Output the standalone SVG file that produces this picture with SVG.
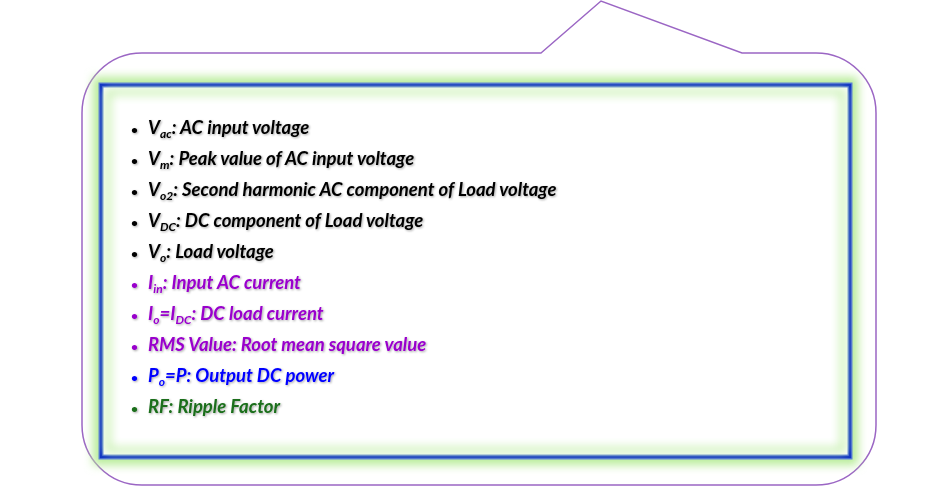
<svg xmlns="http://www.w3.org/2000/svg" width="950" height="495" viewBox="0 0 950 495">
<defs>
<filter id="glow" x="-10%" y="-10%" width="120%" height="120%"><feGaussianBlur stdDeviation="5"/></filter>
<filter id="sh" x="-5%" y="-20%" width="110%" height="150%"><feDropShadow dx="1" dy="1" stdDeviation="0.8" flood-color="#000" flood-opacity="0.35"/></filter>
<style>
text{font-family:Lato,"Open Sans",sans-serif;font-weight:bold;font-style:italic;font-size:18.5px}
.k{fill:#000}.p{fill:#9900cc}.b{fill:#0000ff}.g{fill:#1a6e1a}
.bu{font-style:normal;font-size:12px}
.s{font-size:12px}
</style>
</defs>
<g id="callout">
<path d="M541,53 L601,1 L742,53 L816,53 A60,60 0 0 1 876,113 L876,425 A60,60 0 0 1 816,485 L142,485 A60,60 0 0 1 82,425 L82,113 A60,60 0 0 1 142,53 Z" fill="#fff" stroke="#9b66c4" stroke-width="1.5"/>
</g>
<g id="box">
<rect x="101" y="85" width="749" height="372" fill="none" stroke="#b8ec98" stroke-width="16" filter="url(#glow)"/>
<rect x="101" y="85" width="749" height="372" fill="#fff" stroke="#5b7fd6" stroke-width="5"/>
<rect x="101" y="85" width="749" height="372" fill="none" stroke="#0a2fc4" stroke-width="2.5"/>
<rect x="108" y="92" width="735" height="358" fill="none" stroke="#c8f0b0" stroke-width="6" filter="url(#glow)"/>
</g>
<g id="text" filter="url(#sh)">
<text x="131" y="134" class="k"><tspan class="bu">•</tspan><tspan x="148">V</tspan><tspan class="s" dy="4">ac</tspan><tspan dy="-4">: AC input voltage</tspan></text>
<text x="131" y="165" class="k"><tspan class="bu">•</tspan><tspan x="148">V</tspan><tspan class="s" dy="4">m</tspan><tspan dy="-4">: Peak value of AC input voltage</tspan></text>
<text x="131" y="196" class="k"><tspan class="bu">•</tspan><tspan x="148">V</tspan><tspan class="s" dy="4">o2</tspan><tspan dy="-4">: Second harmonic AC component of Load voltage</tspan></text>
<text x="131" y="227" class="k"><tspan class="bu">•</tspan><tspan x="148">V</tspan><tspan class="s" dy="4">DC</tspan><tspan dy="-4">: DC component of Load voltage</tspan></text>
<text x="131" y="258" class="k"><tspan class="bu">•</tspan><tspan x="148">V</tspan><tspan class="s" dy="4">o</tspan><tspan dy="-4">: Load voltage</tspan></text>
<text x="131" y="289" class="p"><tspan class="bu">•</tspan><tspan x="148">I</tspan><tspan class="s" dy="4">in</tspan><tspan dy="-4">: Input AC current</tspan></text>
<text x="131" y="320" class="p"><tspan class="bu">•</tspan><tspan x="148">I</tspan><tspan class="s" dy="4">o</tspan><tspan dy="-4">=I</tspan><tspan class="s" dy="4">DC</tspan><tspan dy="-4">: DC load current</tspan></text>
<text x="131" y="351" class="p"><tspan class="bu">•</tspan><tspan x="148">RMS Value: Root mean square value</tspan></text>
<text x="131" y="382" class="b"><tspan class="bu">•</tspan><tspan x="148">P</tspan><tspan class="s" dy="4">o</tspan><tspan dy="-4">=P: Output DC power</tspan></text>
<text x="131" y="413" class="g"><tspan class="bu">•</tspan><tspan x="148">RF: Ripple Factor</tspan></text>
</g>
</svg>
